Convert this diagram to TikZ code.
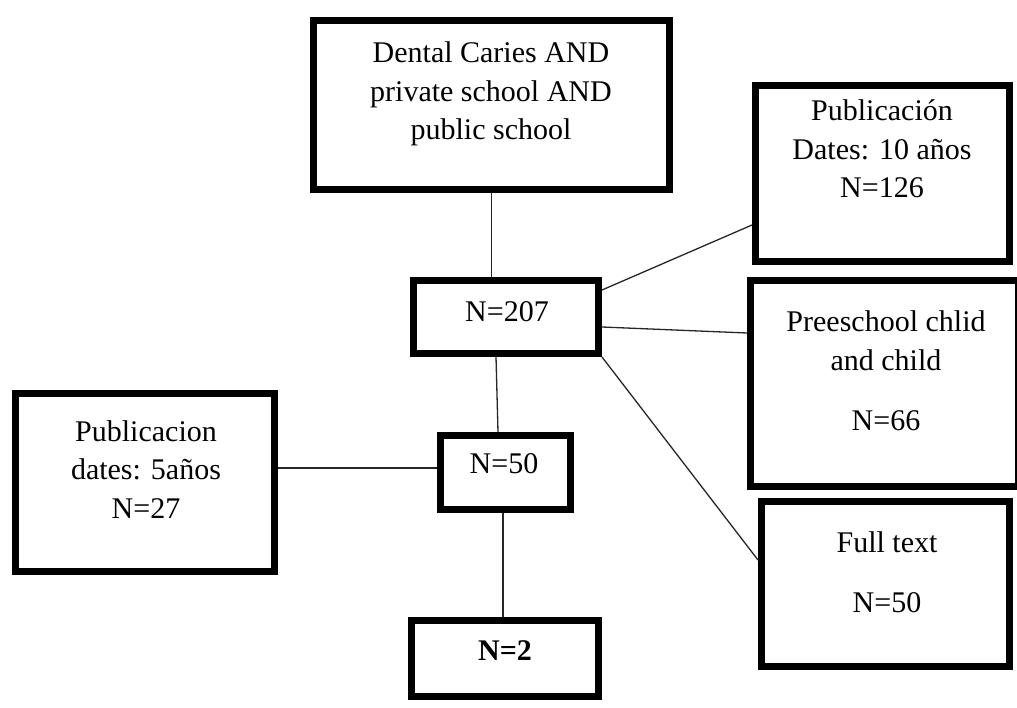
\documentclass[tikz,border=0pt]{standalone}
\usepackage{fontspec}
\setmainfont{Liberation Serif}
\usetikzlibrary{calc}
\begin{document}
\begin{tikzpicture}[x=1pt,y=-1pt,
  box/.style={draw=black,line width=7pt,rectangle,inner sep=0pt,outer sep=3.5pt},
  label/.style={align=center,anchor=base,inner sep=0pt,font=\fontsize{30}{38.5}\selectfont},
  link/.style={draw=black!85,line width=1.3pt}]
\useasboundingbox (0,0) rectangle (1017,708);
% boxes (centre-line size)
\node[box,minimum width=356pt,minimum height=169pt] (top)   at (491.5,105) {};
\node[box,minimum width=254pt,minimum height=176pt] (pub10) at (882.5,173.5) {};
\node[box,minimum width=185pt,minimum height=73pt]  (n207)  at (506,317) {};
\node[box,minimum width=267.5pt,minimum height=206pt] (pre) at (884.25,383.5) {};
\node[box,minimum width=259pt,minimum height=178pt] (pub5)  at (145,482.5) {};
\node[box,minimum width=130pt,minimum height=74pt]  (n50)   at (505.5,472.5) {};
\node[box,minimum width=248pt,minimum height=165pt] (full)  at (885.5,584) {};
\node[box,minimum width=187pt,minimum height=76pt]  (n2)    at (505,658.5) {};
% texts (placed by the baseline of their last line)
\node[label] (ttop)   at (491,140) {Dental Caries AND\\private school AND\\public school};
\node[label] (tpub10) at (882,198) {Publicación\\Dates: 10 años\\N=126};
\node[label] (tn207)  at (507,322) {N=207};
\node[label] (tpre)   at (886,430) {Preeschool chlid\\and child\\[21.5pt]N=66};
\node[label] (tpub5)  at (146,518) {Publicacion\\dates: 5años\\N=27};
\node[label] (tn50)   at (504,473) {N=50};
\node[label] (tfull)  at (887,612) {Full text\\[21.5pt]N=50};
\node[label,font=\fontsize{30}{38.5}\selectfont\bfseries] (tn2) at (505,660) {N=2};
% connectors
\draw[link] (top.south) -- (top.south |- n207.north);
\draw[link] ([yshift=27pt]n207.east) -- ([yshift=-51.5pt]pub10.west);
\draw[link] ([yshift=-10pt]n207.east) -- ([yshift=50.5pt]pre.west);
\draw[link] (n207.south east) -- ([yshift=24pt]full.west);
\draw[link] ([xshift=-10pt]n207.south) -- ([xshift=-7.5pt]n50.north);
\draw[link] ([yshift=14.5pt]pub5.east) -- ([yshift=4.5pt]n50.west);
\draw[link] ([xshift=-2.5pt]n50.south) -- ([xshift=-2pt]n2.north);
\end{tikzpicture}
\end{document}
